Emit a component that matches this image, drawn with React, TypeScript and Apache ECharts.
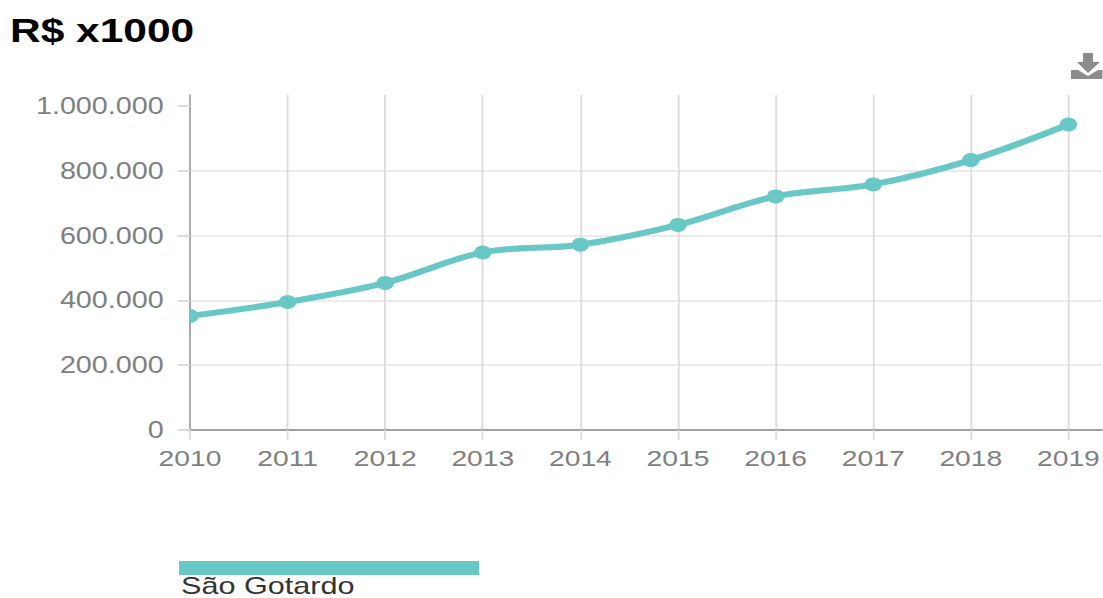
import React, { useEffect, useRef } from "react";
import * as echarts from "echarts";

const titleText = "R$ x1000";
const seriesName = "São Gotardo";
const categories = ["2010", "2011", "2012", "2013", "2014", "2015", "2016", "2017", "2018", "2019"];
const values = [352000, 395000, 454000, 548000, 572000, 633000, 721000, 758000, 833000, 943000];
const tickValues = [0, 200000, 400000, 600000, 800000, 1000000];

const STRETCH = 1.25;
const px = (x: number) => x / STRETCH;
const TEAL = "#68c8c6";
const ICON =
  "M12,0L22,0L22,9L29,9L17,20L6,9L12,9Z M0,17L7,17L17,23L27,17L32,17L32,26L0,26Z";
const HALF_DOT = "path://M0,0A10,10 0 0 1 0,20Z";

echarts.graphic.registerShape("downloadIcon", echarts.graphic.extendPath(ICON, {}) as any);

const fmt = (v: number) => String(v).replace(/\B(?=(\d{3})+$)/g, ".");

export default function App() {
  const ref = useRef<HTMLDivElement>(null);
  useEffect(() => {
    const chart = echarts.init(ref.current!, undefined, { renderer: "svg" });
    const yMax = (335 / 324) * 1000000;
    chart.setOption({
      animation: false,
      backgroundColor: "#ffffff",
      textStyle: { fontFamily: "Liberation Sans" },
      title: {
        text: titleText,
        left: px(10),
        top: 13,
        padding: 0,
        textStyle: { fontSize: 34, fontWeight: "bold", color: "#000", fontFamily: "Liberation Sans" },
      },
      grid: { left: px(190), top: 95, width: px(976), height: 335, containLabel: false, outerBoundsMode: "none" },
      xAxis: {
        type: "category",
        boundaryGap: false,
        data: [...categories, ""],
        axisLine: { lineStyle: { color: "#a0a0a0", width: 2 } },
        axisTick: { show: true, length: 10, lineStyle: { color: "#dcdcdc", width: 1.5 } },
        axisLabel: { interval: 0, margin: 17, fontSize: 22.6, color: "#808080" },
        splitLine: { show: true, lineStyle: { color: "#dcdcdc", width: 1.5 } },
      },
      yAxis: {
        type: "value",
        min: 0,
        max: yMax,
        interval: 200000,
        axisLine: { show: true, lineStyle: { color: "#a8a8a8", width: 1.5 } },
        axisTick: { show: true, length: 10, customValues: tickValues, lineStyle: { color: "#dcdcdc", width: 2 } },
        axisLabel: {
          margin: 21,
          fontSize: 23,
          color: "#808080",
          customValues: tickValues,
          formatter: (v: number) => fmt(v),
        },
        splitLine: { show: true, showMaxLine: false, lineStyle: { color: "#ececec", width: 2 } },
      },
      series: [
        {
          type: "line",
          name: seriesName,
          smooth: 0.35,
          data: values.map((v, i) =>
            i === 0 ? { value: v, symbol: HALF_DOT, symbolSize: [7, 14], symbolOffset: [3.5, 0], symbolKeepAspect: false } : v
          ),
          symbol: "circle",
          symbolSize: 14,
          showSymbol: true,
          lineStyle: { color: TEAL, width: 6 },
          itemStyle: { color: TEAL },
          z: 1,
        },
      ],
      graphic: [
        { type: "rect", shape: { x: px(179), y: 561, width: px(300), height: 14 }, style: { fill: TEAL } },
        {
          type: "text",
          x: px(181),
          y: 577.5,
          scaleX: 24.5 / 23,
          style: { text: seriesName, font: "23px 'Liberation Sans'", lineHeight: 16, fill: "#333333" },
        },
        {
          type: "downloadIcon",
          x: px(1071),
          y: 53,
          scaleX: 1 / STRETCH,
          scaleY: 1,
          style: { fill: "#8c8c8c" },
        },
      ],
    });
    return () => chart.dispose();
  }, []);
  return (
    <div style={{ position: "fixed", left: 0, top: 0, width: 1103, height: 598, overflow: "hidden", background: "#fff" }}>
      <div
        ref={ref}
        style={{
          width: 1103 / STRETCH,
          height: 598,
          transform: `scale(${STRETCH}, 1)`,
          transformOrigin: "0 0",
        }}
      />
    </div>
  );
}
